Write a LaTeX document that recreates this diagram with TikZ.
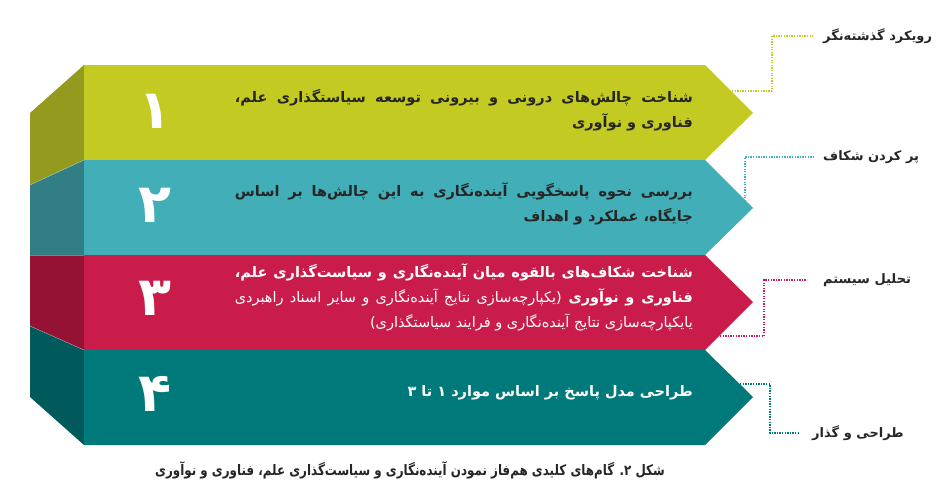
\documentclass[tikz,border=0pt]{standalone}
\usepackage{fontspec}
\TeXXeTstate=1
\newfontfamily\fa[Script=Arabic]{DejaVu Sans}
\definecolor{oliveM}{HTML}{C3CA22}
\definecolor{oliveS}{HTML}{939A1E}
\definecolor{tealM}{HTML}{42AEB7}
\definecolor{tealS}{HTML}{317F84}
\definecolor{crimM}{HTML}{CA1C4B}
\definecolor{crimS}{HTML}{961235}
\definecolor{dtealM}{HTML}{00797B}
\definecolor{dtealS}{HTML}{005A5C}
\definecolor{txtdark}{HTML}{262626}
\newcommand\jline[1]{\hbox to 458pt{\beginR #1\endR}}
\newcommand\rl[1]{\beginR #1\endR}
\begin{document}
\begin{tikzpicture}[x=1pt,y=-1pt]
\tikzset{
  bandtxt/.style={anchor=east, inner sep=0pt, align=right, font=\fa\fontsize{14.5}{25}\selectfont\bfseries},
  numtxt/.style={text=white, inner sep=0pt, font=\fa\fontsize{54}{54}\selectfont\bfseries},
  lbl/.style={anchor=west, inner sep=0pt, text=txtdark, font=\fa\fontsize{13}{15}\selectfont\bfseries},
  conn/.style={line width=1.3pt, dash pattern=on 1.3pt off 1.3pt},
  captxt/.style={inner sep=0pt, text=txtdark, font=\fa\fontsize{14.5}{17}\selectfont\bfseries},
  seam/.style={white, opacity=0.35, line width=0.6pt},
}
\useasboundingbox (0,0) rectangle (948,496);
\fill[white] (0,0) rectangle (948,496);
% band 1
\fill[oliveS] (30,113) -- (84,65) -- (84,160) -- (30,185) -- cycle;
\fill[oliveM] (84,65) -- (705,65) -- (753,113) -- (705,160) -- (84,160) -- cycle;
% band 2
\fill[tealS] (30,185) -- (84,160) -- (84,255) -- (30,255) -- cycle;
\fill[tealM] (84,160) -- (705,160) -- (753,208) -- (705,255) -- (84,255) -- cycle;
% band 3
\fill[crimS] (30,255) -- (84,255) -- (84,350) -- (30,326) -- cycle;
\fill[crimM] (84,255) -- (705,255) -- (753,302) -- (705,350) -- (84,350) -- cycle;
% band 4
\fill[dtealS] (30,326) -- (84,350) -- (84,445) -- (30,397) -- cycle;
\fill[dtealM] (84,350) -- (705,350) -- (753,397) -- (705,445) -- (84,445) -- cycle;
% seams between side faces
\draw[seam] (30,185) -- (84,160);
\draw[seam] (30,255) -- (84,255);
\draw[seam] (30,326) -- (84,350);
% numbers
\node[numtxt] (n1) at (155,111) {۱};
\node[numtxt] (n2) at (155,205) {۲};
\node[numtxt] (n3) at (155,298) {۳};
\node[numtxt] (n4) at (155,394) {۴};
% band texts
\node[bandtxt, text=txtdark] (t1) at (693,110) {\jline{شناخت چالش^^^^200cهای درونی و بیرونی توسعه سیاستگذاری علم،}\\ \rl{فناوری و نوآوری}};
\node[bandtxt, text=txtdark] (t2) at (693,204) {\jline{بررسی نحوه پاسخگویی آینده^^^^200cنگاری به این چالش^^^^200cها بر اساس}\\ \rl{جایگاه، عملکرد و اهداف}};
\node[bandtxt, text=white] (t3) at (693,297) {\jline{شناخت شکاف^^^^200cهای بالقوه میان آینده^^^^200cنگاری و سیاست^^^^200cگذاری علم،}\\
  \jline{فناوری و نوآوری \mdseries (یکپارچه^^^^200cسازی نتایج آینده^^^^200cنگاری و سایر اسناد راهبردی}\\
  \rl{\mdseries یایکپارچه^^^^200cسازی نتایج آینده^^^^200cنگاری و فرایند سیاستگذاری)}};
\node[bandtxt, text=white] (t4) at (693,393) {\rl{طراحی مدل پاسخ بر اساس موارد ۱ تا ۳}};
% labels
\node[lbl] (l1) at (823,36) {\rl{رویکرد گذشته^^^^200cنگر}};
\node[lbl] (l2) at (823,157) {\rl{پر کردن شکاف}};
\node[lbl] (l3) at (823,280) {\rl{تحلیل سیستم}};
\node[lbl] (l4) at (812,433) {\rl{طراحی و گذار}};
% connector anchors on arrow edges
\coordinate (c1) at (732,91);
\coordinate (c2) at (745,201);
\coordinate (c3) at (720,336);
\coordinate (c4) at (740,384);
\draw[conn, oliveM, shorten >=10pt] (c1) -- ++(40,0) |- (l1.west);
\draw[conn, tealM, shorten >=8pt] (c2) |- (l2.west);
\draw[conn, crimM, shorten >=16pt] (c3) -- ++(44,0) |- (l3.west);
\draw[conn, dtealM, shorten >=12pt] (c4) -- ++(30,0) |- (l4.west);
% caption
\node[captxt] (capt) at (410,470) {\scalebox{0.82}[1]{\rl{شکل ۲\relax. گام^^^^200cهای کلیدی هم^^^^200cفاز نمودن آینده^^^^200cنگاری و سیاست^^^^200cگذاری علم، فناوری و نوآوری}}};
\end{tikzpicture}
\end{document}
